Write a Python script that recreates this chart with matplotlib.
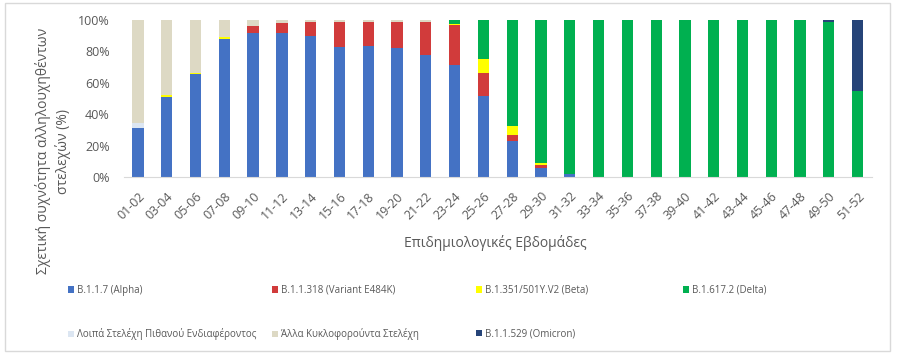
"""Relative frequency of sequenced SARS-CoV-2 strains per epidemiological week pair."""

import matplotlib
import matplotlib.pyplot as plt
from matplotlib.patches import Patch, Rectangle
import numpy as np

matplotlib.use("Agg")

plt.rcParams["font.family"] = ["Open Sans", "DejaVu Sans"]

weeks = ["01-02", "03-04", "05-06", "07-08", "09-10", "11-12", "13-14",
         "15-16", "17-18", "19-20", "21-22", "23-24", "25-26", "27-28",
         "29-30", "31-32", "33-34", "35-36", "37-38", "39-40", "41-42",
         "43-44", "45-46", "47-48", "49-50", "51-52"]

# percentages
alpha = [31, 51, 65.5, 88, 92, 91.5, 90, 83, 83.5, 82, 78, 71.5, 51.5, 23,
         6, 2, 0, 0, 0, 0, 0, 0, 0, 0, 0, 0]
variant = [0, 0, 0, 0, 4, 6.5, 8.5, 16, 15.5, 17, 21, 25.5, 15, 4,
           1.5, 0, 0, 0, 0, 0, 0, 0, 0, 0, 0, 0]
beta = [0, 1, 1, 1, 0, 0, 0, 0, 0, 0, 0, 0.5, 8.5, 5.5,
        1.5, 0, 0, 0, 0, 0, 0, 0, 0, 0, 0, 0]
delta = [0, 0, 0, 0, 0, 0, 0, 0, 0, 0, 0, 2.5, 25, 67.5,
         91, 98, 100, 100, 100, 100, 100, 100, 100, 100, 98.5, 55]
other_voi = [3.5, 0, 0, 0, 0, 0, 0, 0, 0, 0, 0, 0, 0, 0,
             0, 0, 0, 0, 0, 0, 0, 0, 0, 0, 0, 0]
other_circ = [65.5, 48, 33.5, 11, 4, 2, 1.5, 1, 1, 1, 1, 0, 0, 0,
              0, 0, 0, 0, 0, 0, 0, 0, 0, 0, 0, 0]
omicron = [0, 0, 0, 0, 0, 0, 0, 0, 0, 0, 0, 0, 0, 0,
           0, 0, 0, 0, 0, 0, 0, 0, 0, 0, 1.5, 45]

series = [
    ("B.1.1.7 (Alpha)", alpha, "#4472C4"),
    ("B.1.1.318 (Variant E484K)", variant, "#D13B3B"),
    ("B.1.351/501Y.V2 (Beta)", beta, "#FFFF00"),
    ("B.1.617.2 (Delta)", delta, "#00B050"),
    ("Λοιπά Στελέχη Πιθανού Ενδιαφέροντος", other_voi, "#DCE6F2"),
    ("Άλλα Κυκλοφορούντα Στελέχη", other_circ, "#DDD9C4"),
    ("B.1.1.529 (Omicron)", omicron, "#264478"),
]

fig = plt.figure(figsize=(9, 3.53), dpi=100)
ax = fig.add_axes([0.1373, 0.4986, 0.8316, 0.4447])

x = np.arange(len(weeks))
bottom = np.zeros(len(weeks))
for label, vals, color in series:
    vals = np.array(vals, dtype=float)
    ax.bar(x, vals, width=0.39, bottom=bottom, color=color, label=label)
    bottom += vals

ax.set_xlim(-0.5, len(weeks) - 0.5)
ax.set_ylim(0, 100)
ax.set_yticks(range(0, 101, 20))
ax.set_yticklabels([f"{v}%" for v in range(0, 101, 20)])
ax.set_xticks(x)
ax.set_xticklabels(weeks, rotation=45, ha="right", rotation_mode="anchor")

for side in ("top", "right", "left"):
    ax.spines[side].set_visible(False)
ax.spines["bottom"].set_color("#D9D9D9")
ax.tick_params(axis="both", length=0, colors="#595959", labelsize=9)
ax.tick_params(axis="x", pad=9)
ax.tick_params(axis="y", pad=10)

fig.text(495 / 900, 1 - 243 / 353, "Επιδημιολογικές Εβδομάδες",
         ha="center", va="center", fontsize=10, color="#595959")
fig.text(53 / 900, 0.572, "Σχετική συχνότητα αλληλουχηθέντων\nστελεχών (%)",
         rotation=90, ha="center", va="center", multialignment="center",
         fontsize=10, color="#595959", linespacing=1.35)

# legend laid out as four fixed columns, two rows
columns = [[0, 4], [1, 5], [2, 6], [3]]
col_x = [68, 272, 476, 683]
for idx, cx in zip(columns, col_x):
    handles = [Patch(facecolor=series[i][2], edgecolor="none") for i in idx]
    labels = [series[i][0] for i in idx]
    fig.legend(handles, labels, loc="upper left",
               bbox_to_anchor=(cx / 900, 1 - 285 / 353),
               frameon=False, fontsize=7, labelcolor="#595959",
               handlelength=0.6, handleheight=0.6, handletextpad=0.35,
               labelspacing=3.3, borderpad=0, borderaxespad=0)

fig.patches.append(Rectangle((5 / 900, 2 / 353), 885 / 900, 348 / 353,
                             transform=fig.transFigure, fill=False,
                             edgecolor="#D9D9D9", linewidth=1))

fig.savefig("out.png", dpi=100, facecolor="white")
plt.close(fig)
